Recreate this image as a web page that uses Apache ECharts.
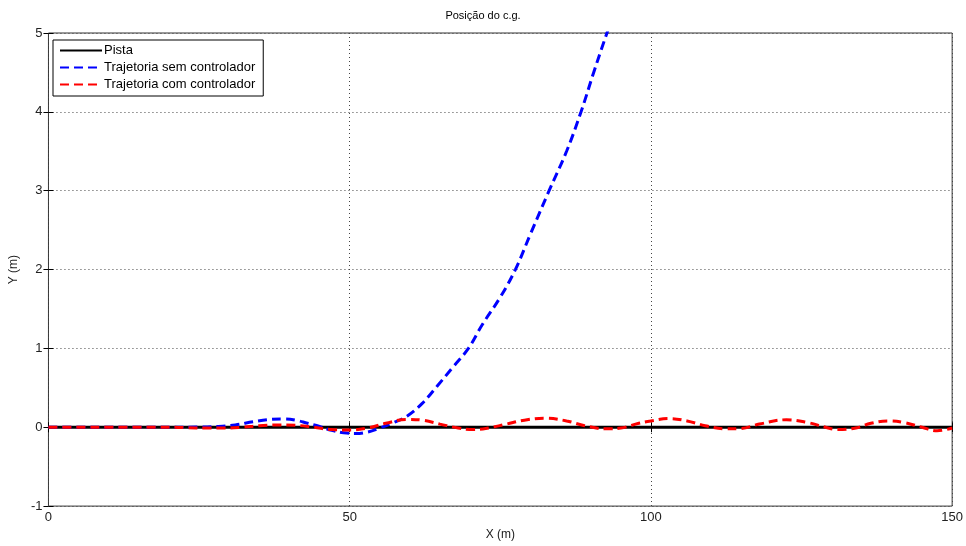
<!DOCTYPE html>
<html>
<head>
<meta charset="utf-8">
<script src="https://cdn.jsdelivr.net/npm/echarts@6/dist/echarts.min.js"></script>
<style>
  html, body { margin: 0; padding: 0; background: #fff; }
  #chart { width: 966px; height: 546px; }
</style>
</head>
<body>
<div id="chart"></div>
<script>
    // pista (reta em y = 0)
    var pistaX = [0, 150];
    var pistaY = [0, 0];

    // trajetoria sem controlador
    var semX = [0, 20, 25, 28, 31, 34, 37, 39, 41, 43, 45, 47, 49, 51, 53, 55, 57, 59.5, 62, 64.5,
                67, 69.7, 72, 75, 77.5, 80, 83.1, 86, 88.4, 90.5, 92.7, 95];
    var semY = [0, 0, 0.002, 0.01, 0.03, 0.07, 0.1, 0.105, 0.09, 0.05, 0.01, -0.04, -0.07, -0.08, -0.06, -0.01, 0.05, 0.14, 0.3, 0.52,
                0.75, 1.0, 1.3, 1.65, 2.0, 2.45, 3.0, 3.5, 4.0, 4.5, 5.0, 5.5];

    // trajetoria com controlador
    var comX = [0, 20, 23, 26, 29, 32, 35, 38, 41, 44, 47, 50, 53, 56, 59.5, 62, 65, 68, 70.5, 73,
                76, 79, 82.5, 86, 89, 92.5, 95, 98, 100, 103, 106, 109, 112.5, 115, 118, 122.5, 126, 129, 131, 134,
                136.5, 139.5, 142, 145, 147.5, 150];
    var comY = [0, 0, -0.005, -0.01, -0.01, 0, 0.02, 0.03, 0.025, 0, -0.03, -0.035, -0.01, 0.05, 0.1, 0.09, 0.04, -0.01, -0.03, -0.01,
                0.04, 0.09, 0.115, 0.08, 0.02, -0.02, -0.01, 0.05, 0.08, 0.11, 0.08, 0.02, -0.02, -0.015, 0.04, 0.095, 0.06, 0, -0.03, -0.01,
                0.05, 0.08, 0.06, 0, -0.045, -0.01];

    var zip = function (xs, ys) {
        var res = [];
        for (var i = 0; i < xs.length; i++) {
            res.push([xs[i], ys[i]]);
        }
        return res;
    };

    var fonte = 'Liberation Sans, Arial, sans-serif';

    var option = {
        animation: false,
        backgroundColor: '#fff',
        title: {
            text: 'Posição do c.g.',
            left: 'center',
            top: 5,
            textStyle: { color: '#000', fontSize: 11, fontWeight: 'normal', fontFamily: fonte }
        },
        legend: {
            orient: 'vertical',
            left: 53,
            top: 40,
            padding: [4, 8, 5, 6],
            itemGap: 4,
            itemWidth: 42,
            itemHeight: 14,
            borderColor: '#000',
            borderWidth: 1,
            backgroundColor: '#fff',
            itemStyle: { opacity: 0 },
            textStyle: { color: '#000', fontSize: 13, fontFamily: fonte, padding: [0, 0, 0, -3] },
            data: ['Pista', 'Trajetoria sem controlador', 'Trajetoria com controlador']
        },
        grid: {
            left: 46,
            right: 11,
            top: 33,
            bottom: 35,
            show: true,
            borderColor: '#333',
            borderWidth: 1
        },
        xAxis: [{
            type: 'value',
            min: 0,
            max: 150,
            interval: 50,
            name: 'X (m)',
            nameLocation: 'middle',
            nameGap: 21,
            nameTextStyle: { color: '#222', fontSize: 12, fontFamily: fonte },
            axisLine: { show: false },
            axisTick: { inside: true, length: 5, lineStyle: { color: '#000' } },
            axisLabel: { color: '#222', fontSize: 13, fontFamily: fonte, margin: 5 },
            splitLine: { show: true, lineStyle: { color: '#444', type: [1, 3], width: 1 } }
        }, {
            type: 'value',
            position: 'top',
            min: 0,
            max: 150,
            interval: 50,
            axisLine: { show: false },
            axisTick: { inside: true, length: 5, lineStyle: { color: '#000' } },
            axisLabel: { show: false },
            splitLine: { show: false }
        }],
        yAxis: [{
            type: 'value',
            min: -1,
            max: 5,
            interval: 1,
            name: 'Y (m)',
            nameLocation: 'middle',
            nameGap: 27,
            nameTextStyle: { color: '#222', fontSize: 12, fontFamily: fonte },
            axisLine: { show: false },
            axisTick: { inside: true, length: 5, lineStyle: { color: '#000' } },
            axisLabel: { color: '#222', fontSize: 13, fontFamily: fonte, margin: 6 },
            splitLine: { show: true, lineStyle: { color: '#444', type: [1, 3], width: 1 } }
        }, {
            type: 'value',
            position: 'right',
            min: -1,
            max: 5,
            interval: 1,
            axisLine: { show: false },
            axisTick: { inside: true, length: 5, lineStyle: { color: '#000' } },
            axisLabel: { show: false },
            splitLine: { show: false }
        }],
        series: [
            {
                name: 'Pista',
                type: 'line',
                symbol: 'none',
                data: zip(pistaX, pistaY),
                lineStyle: { color: '#000', width: 3 },
                itemStyle: { color: '#000' },
                z: 2
            },
            {
                name: 'Trajetoria sem controlador',
                type: 'line',
                symbol: 'none',
                smooth: 0.4,
                data: zip(semX, semY),
                lineStyle: { color: '#0000ff', width: 3, type: [9, 5] },
                itemStyle: { color: '#0000ff' },
                z: 3
            },
            {
                name: 'Trajetoria com controlador',
                type: 'line',
                symbol: 'none',
                smooth: 0.4,
                data: zip(comX, comY),
                lineStyle: { color: '#ff0000', width: 3, type: [9, 5] },
                itemStyle: { color: '#ff0000' },
                z: 4
            }
        ]
    };

    var chart = echarts.init(document.getElementById('chart'));
    chart.setOption(option);
</script>
</body>
</html>
